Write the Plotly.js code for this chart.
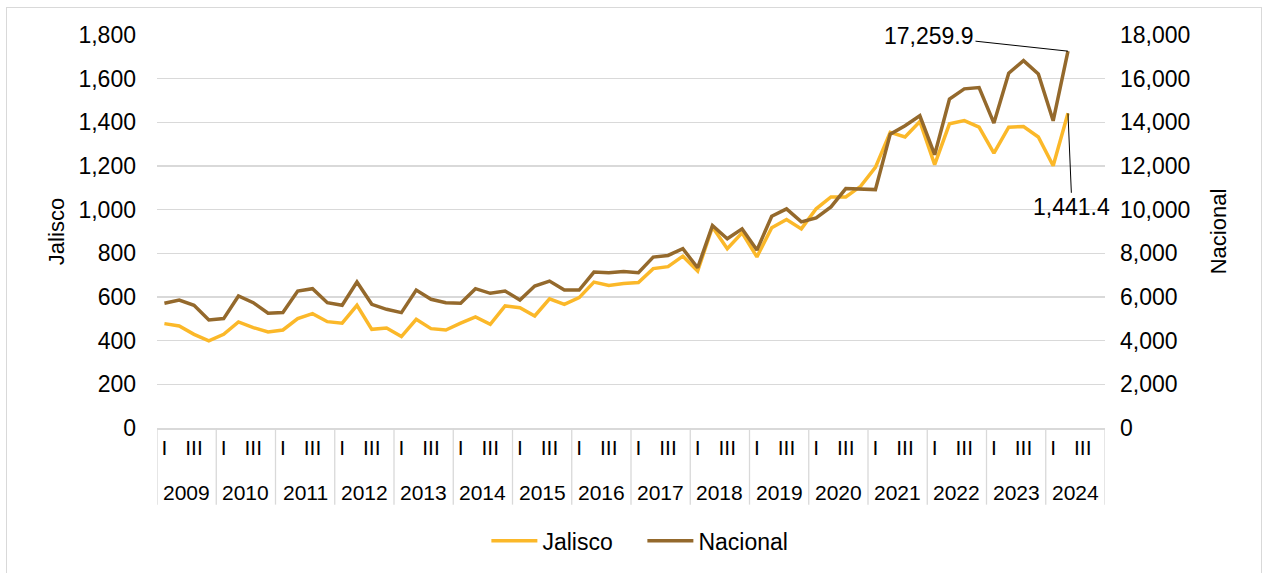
<!DOCTYPE html>
<html>
<head>
<meta charset="utf-8">
<script src="https://cdn.plot.ly/plotly-3.0.1.min.js"></script>
<style>
  html, body { margin: 0; padding: 0; background: #ffffff; overflow: hidden; }
  #chart { position: absolute; left: 0; top: 0; width: 1267px; height: 573px; }
  #frame { position: absolute; left: 6px; top: 7px; width: 1254px; height: 620px;
           border: 1px solid #d9d9d9; pointer-events: none; }
</style>
</head>
<body>
<div id="chart"></div>
<div id="frame"></div>
<script>
// ---- Data ----
const years = [2009, 2010, 2011, 2012, 2013, 2014, 2015, 2016,
               2017, 2018, 2019, 2020, 2021, 2022, 2023, 2024];
const quarters = ['I', 'II', 'III', 'IV'];
const shownQuarterLabels = ['I', 'III'];

// Jalisco (left axis), quarterly 2009-I .. 2024-II
const jalisco = [
  478, 467, 429, 399,
  429, 486, 460, 440,
  449, 501, 524, 487,
  480, 562, 452, 458,
  419, 498, 455, 449,
  480, 509, 475, 559,
  551, 513, 592, 566,
  597, 668, 653, 662,
  666, 730, 739, 787,
  719, 921, 821, 894,
  784, 917, 955, 912,
  1004, 1058, 1058, 1107,
  1194, 1354, 1333, 1404,
  1206, 1393, 1408, 1378,
  1259, 1378, 1381, 1333,
  1201, 1441.4
];

// Nacional (right axis), quarterly 2009-I .. 2024-II
const nacional = [
  5710, 5862, 5620, 4950,
  5011, 6045, 5740, 5254,
  5285, 6273, 6380, 5740,
  5620, 6685, 5665, 5437,
  5285, 6319, 5894, 5740,
  5710, 6380, 6168, 6273,
  5862, 6501, 6730, 6319,
  6319, 7142, 7112, 7173,
  7112, 7826, 7904, 8209,
  7339, 9274, 8665, 9122,
  8147, 9700, 10037, 9443,
  9626, 10128, 10964, 10950,
  10919, 13460, 13842, 14300,
  12518, 15061, 15533, 15594,
  13964, 16249, 16828, 16218,
  14071, 17259.9
];

const colorJalisco = '#FBB829';
const colorNacional = '#94692C';
const gridColor = '#d9d9d9';
const fontFamily = '"Liberation Sans", Arial, sans-serif';

// ---- Categories ----
const periods = [];
years.forEach(y => quarters.forEach(q => periods.push(y + ' ' + q)));
const tickvals = periods.filter(p => shownQuarterLabels.includes(p.split(' ')[1]));
const ticktext = tickvals.map(p => p.split(' ')[1]);

const xJal = periods.slice(0, jalisco.length);
const xNac = periods.slice(0, nacional.length);

const traces = [
  { x: xJal, y: jalisco, name: 'Jalisco', type: 'scatter', mode: 'lines',
    line: { color: colorJalisco, width: 3.5 }, yaxis: 'y', hoverinfo: 'x+y' },
  { x: xNac, y: nacional, name: 'Nacional', type: 'scatter', mode: 'lines',
    line: { color: colorNacional, width: 3.5 }, yaxis: 'y2', hoverinfo: 'x+y' }
];

// Year dividers and year labels on the category axis
const shapes = [];
const annotations = [];
const nQ = quarters.length;
for (let k = 0; k <= years.length; k++) {
  shapes.push({ type: 'line', xref: 'x', yref: 'paper',
    x0: k * nQ - 0.5, x1: k * nQ - 0.5, y0: 0, y1: -0.195,
    line: { color: gridColor, width: 1.3 } });
}
years.forEach((y, k) => {
  annotations.push({ xref: 'x', yref: 'paper', x: k * nQ + (nQ - 1) / 2, y: -0.163,
    text: String(y), showarrow: false, xanchor: 'center', yanchor: 'middle',
    font: { size: 21, color: '#000', family: fontFamily } });
});

// Data labels on the last points
const lastIdx = nacional.length - 1;
annotations.push({ xref: 'x', yref: 'y2', x: xNac[lastIdx], y: nacional[lastIdx],
  text: '17,259.9', showarrow: true, arrowhead: 0, arrowwidth: 1, arrowcolor: '#000',
  standoff: 0, ax: -139, ay: -15, font: { size: 23, color: '#000', family: fontFamily } });
annotations.push({ xref: 'x', yref: 'y', x: xJal[jalisco.length - 1], y: jalisco[jalisco.length - 1],
  text: '1,441.4', showarrow: true, arrowhead: 0, arrowwidth: 1, arrowcolor: '#000',
  standoff: 0, ax: 4, ay: 94, font: { size: 23, color: '#000', family: fontFamily } });

const layout = {
  width: 1267, height: 573,
  margin: { l: 157, r: 162, t: 35, b: 144, pad: 0 },
  paper_bgcolor: '#ffffff', plot_bgcolor: '#ffffff',
  font: { family: fontFamily, color: '#000', size: 22 },
  showlegend: true,
  legend: { orientation: 'h', x: 0.512, xanchor: 'center', y: -0.284, yanchor: 'middle',
            entrywidth: 95, entrywidthmode: 'pixels', itemwidth: 46,
            font: { size: 23, color: '#000', family: fontFamily }, traceorder: 'normal' },
  xaxis: {
    type: 'category', categoryorder: 'array', categoryarray: periods,
    range: [-0.5, periods.length - 0.5],
    tickmode: 'array', tickvals: tickvals, ticktext: ticktext,
    tickfont: { size: 21, color: '#000' },
    ticks: '', showgrid: false, zeroline: false,
    showline: true, linecolor: gridColor, linewidth: 1.5,
    fixedrange: true
  },
  yaxis: {
    range: [0, 1800], dtick: 200, tickformat: ',d',
    tickfont: { size: 23, color: '#000' }, ticklabelstandoff: 20,
    showgrid: true, gridcolor: gridColor, gridwidth: 1.5,
    zeroline: false, showline: false, ticks: '',
    title: { text: 'Jalisco', font: { size: 22, color: '#000' }, standoff: 7 },
    fixedrange: true
  },
  yaxis2: {
    overlaying: 'y', side: 'right',
    range: [0, 18000], dtick: 2000, tickformat: ',d',
    tickfont: { size: 23, color: '#000' }, ticklabelstandoff: 14,
    showgrid: false, zeroline: false, showline: false, ticks: '',
    title: { text: 'Nacional', font: { size: 22, color: '#000' }, standoff: 21 },
    fixedrange: true
  },
  shapes: shapes,
  annotations: annotations
};

Plotly.newPlot('chart', traces, layout, { displayModeBar: false, staticPlot: true });
</script>
</body>
</html>
